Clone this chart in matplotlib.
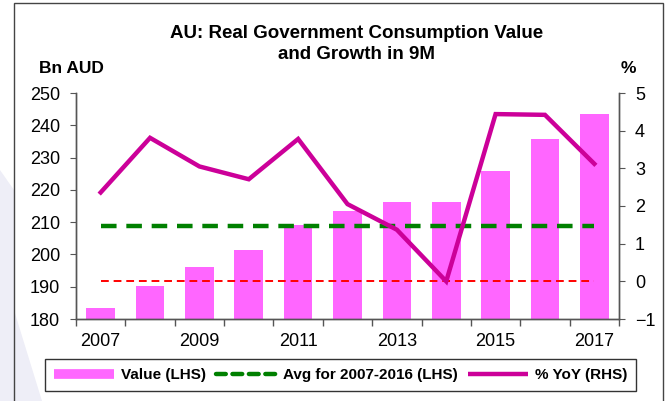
import matplotlib
matplotlib.use('Agg')
import matplotlib.pyplot as plt
from matplotlib.lines import Line2D
from matplotlib.patches import Rectangle, Polygon

plt.rcParams['font.family'] = ['Liberation Sans', 'DejaVu Sans']

years = [2007, 2008, 2009, 2010, 2011, 2012, 2013, 2014, 2015, 2016, 2017]
value_bn = [183.3, 190.2, 196.0, 201.4, 209.1, 213.4, 216.3, 216.2, 225.9, 235.9, 243.4]
yoy_pct = [2.36, 3.81, 3.05, 2.71, 3.78, 2.05, 1.37, 0.0, 4.44, 4.42, 3.12]
avg_2007_2016 = 208.9
zero_line = 0.0

title = 'AU: Real Government Consumption Value\nand Growth in 9M'

W, H = 669, 401


def px(x, y):
    # pixel position (from top-left) -> figure fraction
    return x / W, 1 - y / H


fig = plt.figure(figsize=(W / 100.0, H / 100.0), dpi=100)
fig.patch.set_facecolor('white')

# faint watermark on the left edge
wm = [px(0, 170), px(14, 190), px(14, 310), px(42, 401), px(0, 401)]
fig.add_artist(Polygon(wm, closed=True, transform=fig.transFigure,
                       facecolor='#eeeef7', edgecolor='none', zorder=0))
# outer frame
fig.add_artist(Rectangle((14 / W, -0.05), (663 - 14) / W, 1.05 - 3 / H,
                         transform=fig.transFigure, fill=False,
                         edgecolor='#444444', linewidth=1.0, zorder=1))

ax = fig.add_axes([76 / W, 1 - 319 / H, (619 - 76) / W, (319 - 93) / H])
ax2 = ax.twinx()

x = list(range(len(years)))
ax.bar(x, value_bn, width=0.58, color='#ff66ff', zorder=2)
ax.plot([x[0], x[-1]], [avg_2007_2016, avg_2007_2016], color='#008000',
        linewidth=3.2, dashes=(3.5, 2.2), zorder=3)

ax2.plot([x[0], x[-1]], [zero_line, zero_line], color='#ff0000',
         linewidth=1.4, dashes=(4, 2.5), zorder=3)
ax2.plot(x, yoy_pct, color='#cc0099', linewidth=3.2, solid_joinstyle='miter',
         zorder=4)

ax.set_xlim(-0.5, len(years) - 0.5)
ax.set_ylim(180, 250)
ax2.set_ylim(-1, 5)
ax.set_yticks(range(180, 251, 10))
ax2.set_yticks(range(-1, 6))

ax.set_xticks(x[::2])
ax.set_xticklabels([str(y) for y in years[::2]])
ax.set_xticks([i - 0.5 for i in range(len(years) + 1)], minor=True)
ax.tick_params(axis='x', which='major', length=0, pad=10, labelsize=13)
ax.tick_params(axis='x', which='minor', length=5, direction='out',
               color='#555555', width=1)
ax.tick_params(axis='y', length=4.5, color='#555555', labelsize=13, pad=7)
ax2.tick_params(axis='y', length=4.5, color='#555555', labelsize=13, pad=7)

for a in (ax, ax2):
    a.spines['top'].set_visible(False)
    for s in ('left', 'right', 'bottom'):
        a.spines[s].set_color('#555555')
        a.spines[s].set_linewidth(1.0)
ax.set_zorder(ax2.get_zorder() - 1)
ax2.patch.set_visible(False)

tx, ty = px(357, 44)
fig.text(tx, ty, title, ha='center', va='center',
         fontsize=13.5, fontweight='bold', linespacing=1.3)
bx, by = px(71.5, 68.5)
fig.text(bx, by, 'Bn AUD', ha='center', va='center',
         fontsize=12.5, fontweight='bold')
pxx, pyy = px(628, 68.5)
fig.text(pxx, pyy, '%', ha='center', va='center',
         fontsize=12.5, fontweight='bold')

handles = [Line2D([], [], color='#ff66ff', linewidth=7, solid_capstyle='butt'),
           Line2D([], [], color='#008000', linewidth=3.2, dashes=(2.2, 1.5),
                  dash_capstyle='round'),
           Line2D([], [], color='#cc0099', linewidth=3.2, solid_capstyle='butt')]
labels = ['Value (LHS)', 'Avg for 2007-2016 (LHS)', '% YoY (RHS)']
lx, ly = px(340.5, 375)
leg = fig.legend(handles, labels, loc='center', ncol=3,
                 bbox_to_anchor=(lx, ly),
                 prop={'weight': 'bold', 'size': 11}, frameon=True,
                 fancybox=False, edgecolor='black', handlelength=3.9,
                 handletextpad=0.45, columnspacing=0.7, borderpad=0.6,
                 borderaxespad=0)
leg.get_frame().set_linewidth(1.0)

fig.savefig('out.png', dpi=100)
